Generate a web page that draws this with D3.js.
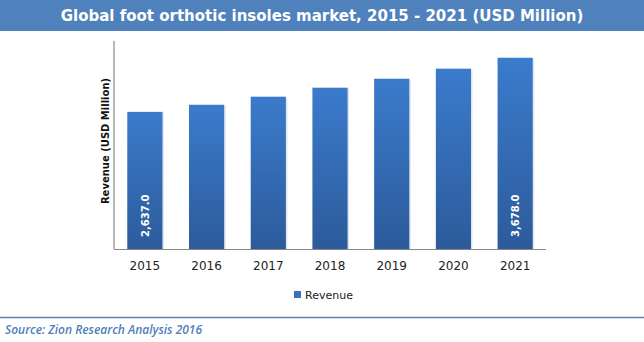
<!DOCTYPE html>
<html><head><meta charset="utf-8">
<script src="https://cdn.jsdelivr.net/npm/d3@7"></script>
<style>body{margin:0;background:#fff}svg{display:block}</style>
</head><body>
<script>
const years = ["2015","2016","2017","2018","2019","2020","2021"];
const revenue = [2637.0, 2774, 2929, 3102, 3275, 3468, 3678.0];
const labelled = ["2015","2021"];
const seriesName = "Revenue";
const titleText = "Global foot orthotic insoles market, 2015 - 2021 (USD Million)";
const yTitle = "Revenue (USD Million)";
const sourceText = "Source: Zion Research Analysis 2016";

const W = 644, H = 342;
const svg = d3.select("body").append("svg").attr("width", W).attr("height", H);
const defs = svg.append("defs");
const g = defs.append("linearGradient").attr("id","barGrad").attr("x1",0).attr("y1",0).attr("x2",0).attr("y2",1);
g.append("stop").attr("offset","0%").attr("stop-color","#3b7bcc");
g.append("stop").attr("offset","100%").attr("stop-color","#2c5b9b");

// title bar
svg.append("rect").attr("x",0).attr("y",0).attr("width",W).attr("height",31).attr("fill","#4f81bd");
svg.append("text").attr("x",W/2).attr("y",21).attr("text-anchor","middle")
  .attr("fill","#fff").attr("font-family","Verdana, 'DejaVu Sans', sans-serif")
  .attr("font-weight","bold").attr("font-size",15).text(titleText);

const x = d3.scaleBand().domain(years).range([114, 546]).paddingInner(0.43).paddingOuter(0.215);
const y = d3.scaleLinear().domain([0, 4000]).range([249, 41]);

// bars with faint shadow
const data = years.map((d,i)=>({year:d, value:revenue[i]}));
svg.selectAll("rect.sh").data(data).enter().append("rect")
  .attr("x", d=>x(d.year)+1.5).attr("y", d=>y(d.value)+1)
  .attr("width", x.bandwidth()).attr("height", d=>y(0)-y(d.value)-1)
  .attr("fill","#c9d6e8").attr("opacity",0.6);
svg.selectAll("rect.bar").data(data).enter().append("rect")
  .attr("x", d=>x(d.year)).attr("y", d=>y(d.value))
  .attr("width", x.bandwidth()).attr("height", d=>y(0)-y(d.value))
  .attr("fill","url(#barGrad)");

// axes
svg.append("line").attr("x1",114).attr("x2",114).attr("y1",41).attr("y2",249).attr("stroke","#888").attr("stroke-width",1.2);
svg.append("line").attr("x1",114).attr("x2",546).attr("y1",249.5).attr("y2",249.5).attr("stroke","#888").attr("stroke-width",1.2);

const xAxis = svg.append("g").attr("transform","translate(0,249)")
  .call(d3.axisBottom(x).tickSize(0).tickPadding(12));
xAxis.select(".domain").remove();
xAxis.selectAll("text").attr("font-family","Tahoma, 'DejaVu Sans', sans-serif").attr("font-size",12).attr("fill","#222");

// y title
svg.append("text").attr("transform","translate(109,141) rotate(-90)").attr("text-anchor","middle")
  .attr("font-family","Tahoma, 'DejaVu Sans', sans-serif").attr("font-weight","bold").attr("font-size",10)
  .attr("fill","#111").text(yTitle);

// data labels
const fmt = d3.format(",.1f");
svg.selectAll("text.lbl").data(data.filter(d=>labelled.includes(d.year))).enter().append("text")
  .attr("transform", d=>`translate(${x(d.year)+x.bandwidth()/2+4},${y(0)-12}) rotate(-90)`)
  .attr("text-anchor","start").attr("fill","#fff").attr("font-weight","bold")
  .attr("font-family","Tahoma, 'DejaVu Sans', sans-serif").attr("font-size",10)
  .text(d=>fmt(d.value));

// legend
svg.append("rect").attr("x",294).attr("y",291).attr("width",7).attr("height",7).attr("fill","#3a72bd");
svg.append("text").attr("x",305).attr("y",299).attr("font-family","Tahoma, 'DejaVu Sans', sans-serif")
  .attr("font-size",11).attr("fill","#222").text(seriesName);

// separator
svg.append("line").attr("x1",0).attr("x2",W).attr("y1",317.5).attr("y2",317.5).attr("stroke","#5b7fa6").attr("stroke-width",1.5);

svg.append("text").attr("x",5).attr("y",334).attr("font-family","'Open Sans', 'Liberation Sans', sans-serif")
  .attr("font-style","italic").attr("font-weight","600").attr("font-size",12).attr("fill","#4f7fb8").text(sourceText);
</script>
</body></html>
